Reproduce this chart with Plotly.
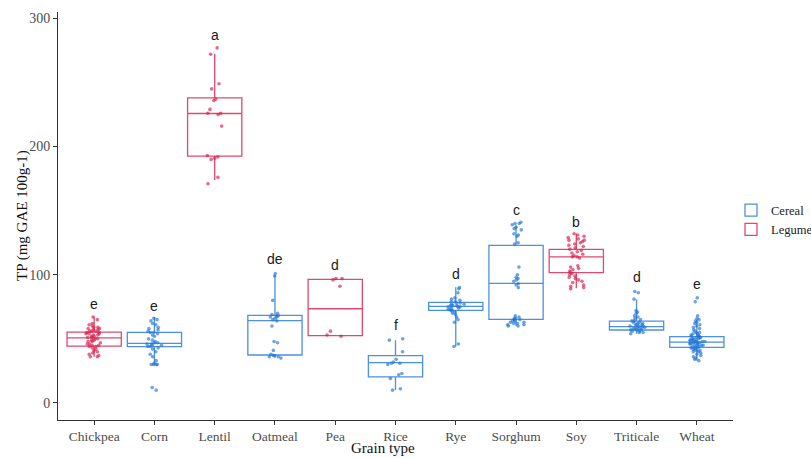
import plotly.graph_objects as go

categories = ["Chickpea", "Corn", "Lentil", "Oatmeal", "Pea", "Rice", "Rye",
              "Sorghum", "Soy", "Triticale", "Wheat"]
grain_class = ["Legume", "Cereal", "Legume", "Cereal", "Legume", "Cereal", "Cereal",
               "Cereal", "Legume", "Cereal", "Cereal"]

# box statistics (mg GAE 100g-1)
q1 = [44.4, 43.9, 192.5, 37.4, 52.5, 20.3, 72.3, 65.2, 101.6, 56.9, 43.4]
median = [50.7, 46.5, 225.8, 64.2, 73.5, 31.4, 75.4, 93.3, 114.0, 59.5, 47.5]
q3 = [55.3, 55.1, 238.0, 68.3, 96.4, 36.9, 78.5, 123.0, 119.8, 63.9, 51.7]
lower_whisker = [36.0, 29.6, 174.0, 35.0, 52.5, 10.1, 44.0, 60.0, 89.4, 54.0, 33.0]
upper_whisker = [67.0, 67.0, 272.5, 100.0, 96.4, 49.0, 90.2, 138.7, 132.0, 80.8, 64.7]

# individual observations
obs_chickpea = [67, 65, 62, 61, 60, 59, 59, 58, 58, 57, 57, 56, 56, 56, 55, 55, 54, 54, 54,
                53, 53, 52, 52, 51, 51, 50, 50, 49, 49, 48, 48, 47, 46, 46, 45, 45, 44, 44,
                43, 42, 41, 40, 39, 38, 37, 36, 36]
obs_corn = [66, 65, 64, 62, 61, 59, 58, 57, 56, 55, 55, 54, 53, 52, 50, 49, 48, 47, 47, 46,
            46, 45, 45, 44, 44, 43, 42, 40, 38, 36, 33, 31, 30, 30, 30, 30, 12, 10]
obs_lentil = [277, 272, 249, 245, 237, 236, 229, 226, 226, 225, 216, 193, 192, 191, 190, 176, 171]
obs_oatmeal = [101, 99, 80, 70, 69, 68, 68, 67, 67, 66, 65, 64, 60, 48, 47, 41, 38, 37, 37,
               36, 36, 35]
obs_pea = [97, 97, 96, 91, 56, 53, 52]
obs_rice = [50, 49, 40, 34, 32, 31, 31, 30, 23, 22, 19, 11, 10]
obs_rye = [90, 89, 86, 82, 81, 80, 79, 79, 78, 78, 77, 77, 76, 76, 76, 75, 75, 75, 74, 74,
           73, 73, 72, 72, 71, 70, 69, 67, 65, 63, 46, 44]
obs_sorghum = [141, 140, 140, 139, 137, 136, 135, 132, 131, 130, 125, 124,
               106, 100, 98, 97, 96, 95, 93, 92, 90,
               68, 67, 66, 66, 65, 65, 64, 64, 63, 63, 62, 62, 61, 61, 60, 60]
obs_soy = [132, 131, 130, 129, 128, 127, 127, 126, 125, 124, 123, 122, 121, 120, 119, 118,
           117, 116, 115, 114, 114, 113,
           107, 106, 105, 104, 103, 102, 101, 100, 99, 98, 97, 96, 95, 94, 92, 91, 90, 89]
obs_triticale = [87, 86, 81, 72, 71, 70, 68, 67, 66, 65, 64, 64, 63, 63, 62, 62, 61, 61, 61,
                 60, 60, 60, 59, 59, 59, 58, 58, 58, 57, 57, 57, 56, 56, 55, 55, 54]
obs_wheat = [82, 79, 68, 66, 65, 64, 63, 62, 61, 60, 59, 58, 57, 56, 55, 55, 54, 54, 53, 53,
             52, 52, 52, 51, 51, 51, 50, 50, 50, 49, 49, 49, 49, 48, 48, 48, 48, 47, 47, 47,
             47, 46, 46, 46, 46, 45, 45, 45, 44, 44, 44, 43, 43, 43, 42, 42, 41, 41, 40, 40,
             39, 38, 37, 36, 35, 34, 33]
observations = [obs_chickpea, obs_corn, obs_lentil, obs_oatmeal, obs_pea, obs_rice, obs_rye,
                obs_sorghum, obs_soy, obs_triticale, obs_wheat]

letters = ["e", "e", "a", "de", "d", "f", "d", "c", "b", "d", "e"]
letter_y = [77, 76, 287, 112, 107.6, 60.8, 100.5, 150.4, 141.3, 98, 92.7]

x_title = "Grain type"
y_title = "TP (mg GAE 100g-1)"

line_colors = {"Cereal": "rgba(31,116,214,0.8)", "Legume": "rgba(216,27,74,0.8)"}
point_colors = {"Cereal": "rgba(31,116,214,0.65)", "Legume": "rgba(216,27,74,0.65)"}

fig = go.Figure()
for grp in ["Cereal", "Legume"]:
    idx = [i for i, g in enumerate(grain_class) if g == grp]
    fig.add_trace(go.Box(
        name=grp, legendgroup=grp, showlegend=True,
        x=[categories[i] for i in idx],
        q1=[q1[i] for i in idx], median=[median[i] for i in idx], q3=[q3[i] for i in idx],
        lowerfence=[lower_whisker[i] for i in idx], upperfence=[upper_whisker[i] for i in idx],
        width=0.9, whiskerwidth=0, boxpoints=False,
        line=dict(color=line_colors[grp], width=1.3),
        fillcolor="rgba(255,255,255,0)",
    ))
    xs, ys = [], []
    for i in idx:
        xs += [categories[i]] * len(observations[i])
        ys += observations[i]
    fig.add_trace(go.Box(
        name=grp, legendgroup=grp, showlegend=False,
        x=xs, y=ys, width=0.9, boxpoints="all", jitter=0.32, pointpos=0,
        line=dict(width=0, color="rgba(0,0,0,0)"),
        fillcolor="rgba(0,0,0,0)",
        marker=dict(color=point_colors[grp], size=3.6),
        hoveron="points",
    ))

for c, t, yv in zip(categories, letters, letter_y):
    fig.add_annotation(x=c, y=yv, text=t, showarrow=False,
                       font=dict(family="Liberation Sans, Arial", size=14, color="#1a1a1a"))

# axis titles as paper-anchored annotations
fig.add_annotation(xref="paper", yref="paper", x=(383 - 58) / 753, y=-38 / 408,
                   text=x_title, showarrow=False, xanchor="center", yanchor="bottom",
                   font=dict(family="Liberation Serif, serif", size=15, color="#111111"))
fig.add_annotation(xref="paper", yref="paper", x=-36 / 753, y=0.5, textangle=-90,
                   text=y_title, showarrow=False, xanchor="center", yanchor="middle",
                   font=dict(family="Liberation Serif, serif", size=15, color="#111111"))

fig.update_layout(
    width=811, height=458,
    margin=dict(l=58, r=0, t=12, b=38, autoexpand=False),
    plot_bgcolor="white", paper_bgcolor="white",
    boxmode="overlay",
    font=dict(family="Liberation Serif, serif", color="#222222"),
    legend=dict(x=(731 - 58) / 753, y=0.49, xanchor="left", yanchor="middle",
                font=dict(family="Liberation Serif, serif", size=12.5, color="#222222"),
                tracegroupgap=0, itemwidth=30, bgcolor="rgba(0,0,0,0)"),
    showlegend=True,
)
fig.update_xaxes(
    domain=[0, 675 / 753],
    categoryorder="array", categoryarray=categories, range=[-0.6, 10.6],
    showline=True, linecolor="#333333", linewidth=1, showgrid=False, zeroline=False,
    ticks="outside", ticklen=4, tickcolor="#333333", automargin=False,
    tickfont=dict(family="Liberation Serif, serif", size=13.5, color="#4d4d4d"),
)
fig.update_yaxes(
    range=[-13.3, 305], tickvals=[0, 100, 200, 300],
    showline=True, linecolor="#333333", linewidth=1, showgrid=False, zeroline=False,
    ticks="outside", ticklen=4, tickcolor="#333333", automargin=False,
    tickfont=dict(family="Liberation Serif, serif", size=14, color="#4d4d4d"),
)

fig.write_html("out.html")
